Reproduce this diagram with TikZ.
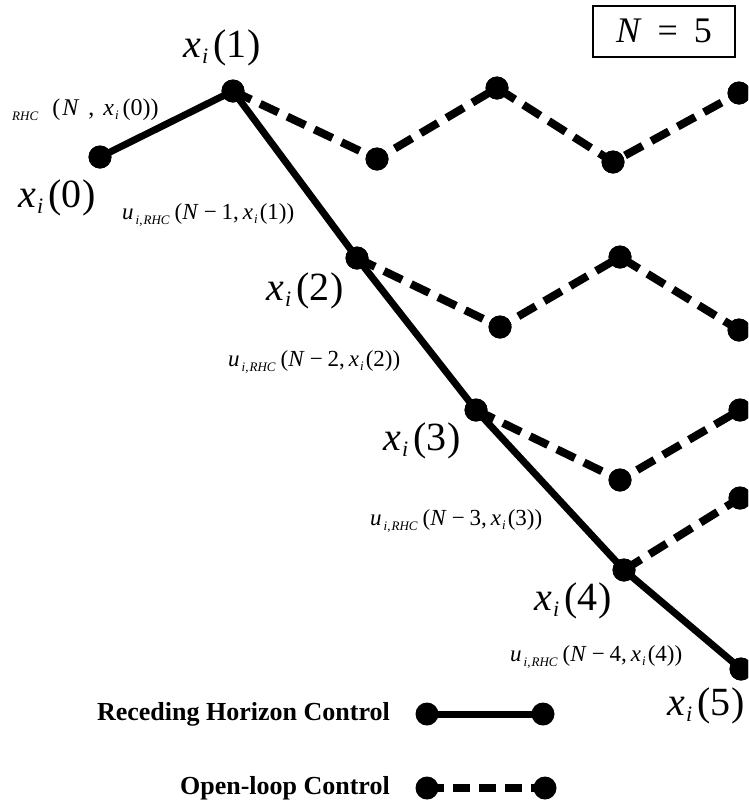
\documentclass[tikz,border=0pt]{standalone}
\usepackage{fontspec}
\setmainfont{Liberation Serif}
\newcommand{\bigxlab}[1]{{\fontsize{40}{40}\selectfont\textit{x}\kern1pt\raisebox{-0.3ex}{\fontsize{22}{22}\selectfont\textit{i}}\kern5pt(#1\kern1pt)}}
\newcommand{\smx}[1]{\textit{x}\kern1pt\raisebox{-0.35ex}{\fontsize{13}{13}\selectfont\textit{i}}\kern2pt(#1)}
\newcommand{\ulab}[1]{{\fontsize{23}{23}\selectfont\textit{u}\kern2pt\raisebox{-0.45ex}{\fontsize{13}{13}\selectfont\textit{i},\kern1pt\textit{RHC}}\kern5pt(\textit{N}\kern5pt−\kern5pt#1,\kern4pt\smx{#1})}}
\tikzset{
  dot/.style={circle,fill=black,inner sep=0pt,minimum size=23pt},
  rhc/.style={line width=7pt},
  olc/.style={line width=8pt,dash pattern=on 20pt off 10pt},
  lbl/.style={inner sep=0pt},
}
\begin{document}
\begin{tikzpicture}[x=1pt,y=-1pt]
\clip (0,0) rectangle (748,804);
\useasboundingbox (0,0) rectangle (748,804);
% main trajectory points
\node[dot] (p0) at (100,157) {};
\node[dot] (p1) at (233,91) {};
\node[dot] (p2) at (357,258) {};
\node[dot] (p3) at (476,410) {};
\node[dot] (p4) at (624,570) {};
\node[dot] (p5) at (741,669) {};
% open-loop points from p1
\node[dot] (a1) at (377,159) {};
\node[dot] (a2) at (497,88) {};
\node[dot] (a3) at (613,162) {};
\node[dot] (a4) at (739,93) {};
% from p2
\node[dot] (b1) at (500,327) {};
\node[dot] (b2) at (620,257) {};
\node[dot] (b3) at (739,330) {};
% from p3
\node[dot] (c1) at (620,480) {};
\node[dot] (c2) at (740,410) {};
% from p4
\node[dot] (d1) at (740,498) {};
% dashed open-loop
\draw[olc] (p1.center) -- (a1.center) -- (a2.center) -- (a3.center) -- (a4.center);
\draw[olc] (p2.center) -- (b1.center) -- (b2.center) -- (b3.center);
\draw[olc] (p3.center) -- (c1.center) -- (c2.center);
\draw[olc] (p4.center) -- (d1.center);
% solid RHC
\draw[rhc] (p0.center) -- (p1.center) -- (p2.center) -- (p3.center) -- (p4.center) -- (p5.center);
% redraw dots on top
\foreach \n in {p0,p1,p2,p3,p4,p5,a1,a2,a3,a4,b1,b2,b3,c1,c2,d1}
  \fill (\n) circle (11.5pt);
% labels
\node[lbl] (l1) at (222,48) {\bigxlab{1}};
\node[lbl,anchor=west] (u0) at (12,110) {\fontsize{24}{24}\selectfont\raisebox{-0.45ex}{\fontsize{13}{13}\selectfont\textit{RHC}}\kern14pt(\kern2pt\textit{N}\kern9pt,\kern9pt\textit{x}\kern1pt\raisebox{-0.35ex}{\fontsize{13}{13}\selectfont\textit{i}}\kern4pt(0))};
\node[lbl] (l0) at (57,198) {\bigxlab{0}};
\node[lbl,anchor=west] (u1) at (122,215) {\ulab{1}};
\node[lbl] (l2) at (305,291) {\bigxlab{2}};
\node[lbl,anchor=west] (u2) at (228,362) {\ulab{2}};
\node[lbl] (l3) at (422,441) {\bigxlab{3}};
\node[lbl,anchor=west] (u3) at (370,521) {\ulab{3}};
\node[lbl] (l4) at (573,601) {\bigxlab{4}};
\node[lbl,anchor=west] (u4) at (510,657) {\ulab{4}};
\node[lbl,anchor=east] (l5) at (745,706) {\bigxlab{5}};
% N = 5 box
\node[draw,line width=2pt,minimum width=142pt,minimum height=51pt,inner sep=0pt] (nbox) at (664,31)
  {\fontsize{36}{36}\selectfont\textit{N}\hspace{16pt}=\hspace{16pt}5};
% legend
\node[lbl,anchor=east] (leg1) at (390,714) {\fontsize{26}{26}\selectfont\bfseries Receding Horizon Control};
\node[dot] (r1) at (427,714) {};
\node[dot] (r2) at (543,714) {};
\draw[rhc] (r1.center) -- (r2.center);
\node[lbl,anchor=east] (leg2) at (390,788) {\fontsize{26}{26}\selectfont\bfseries Open-loop Control};
\node[dot] (o1) at (427,788) {};
\node[dot] (o2) at (545,788) {};
\draw[olc,dash pattern=on 17pt off 9pt] (o1.center) -- (o2.center);
\end{tikzpicture}
\end{document}
